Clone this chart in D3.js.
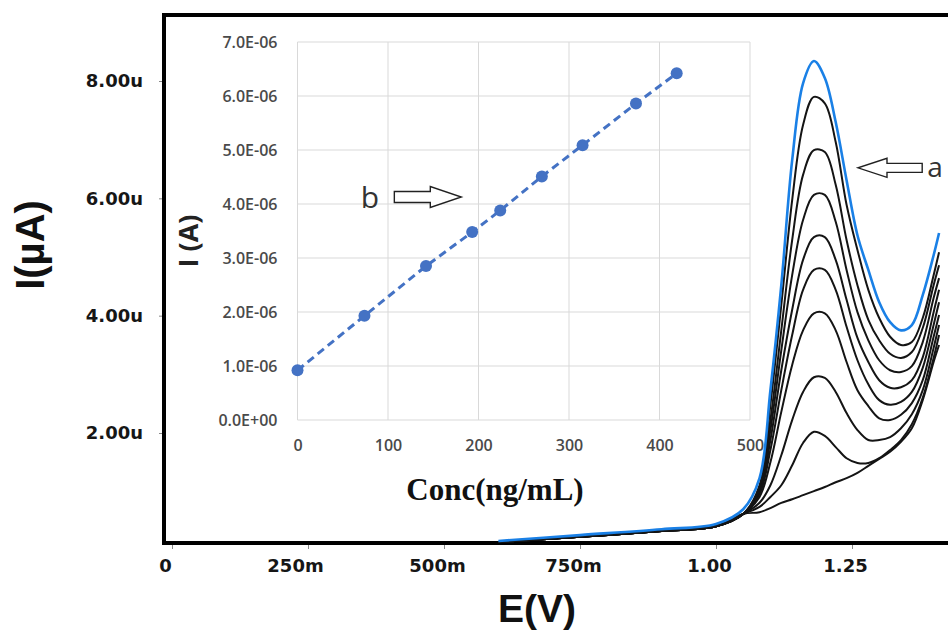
<!DOCTYPE html>
<html lang="en">
<head>
<meta charset="utf-8">
<title>DPV curves with calibration inset</title>
<style>
  body { margin: 0; background: #fff; }
  svg { display: block; background: #fff; }
  .main-axis text { font-family: "DejaVu Sans", sans-serif; font-weight: bold; font-size: 18px; fill: #161616; }
  .main-axis line { stroke: #888; }
  .main-axis path { display: none; }
  .inset-axis text { font-family: "Open Sans", sans-serif; font-weight: 600; font-size: 16px; fill: #4a4a4a; }
  .inset-axis path, .inset-axis line { display: none; }
  .grid line { stroke: #d9d9d9; stroke-width: 1; }
</style>
</head>
<body>
<div id="chart"></div>
<script src="https://d3js.org/d3.v7.min.js"></script>
<script>
  // main plot: potential grid (V) and currents (uA)
  const potential = [0.60, 0.75, 0.90, 1.00, 1.05, 1.08, 1.10, 1.12, 1.14, 1.16, 1.18, 1.20,
    1.22, 1.24, 1.26, 1.28, 1.30, 1.32, 1.34, 1.36, 1.38, 1.40, 1.41];

  const curveA = [0.16, 0.26, 0.36, 0.45, 0.70, 1.23, 2.73, 4.52, 6.65, 7.96, 8.34, 8.05, 7.30, 6.31, 5.37, 4.78, 4.23, 3.89, 3.75, 3.84, 4.35, 5.03, 5.41];
  const curve1 = [0.14, 0.23, 0.33, 0.41, 0.62, 1.11, 2.48, 4.18, 5.97, 7.25, 7.73, 7.62, 6.96, 5.89, 5.12, 4.44, 3.96, 3.64, 3.50, 3.55, 3.96, 4.69, 5.08];
  const curve2 = [0.14, 0.23, 0.33, 0.41, 0.62, 1.06, 2.22, 3.75, 5.29, 6.40, 6.82, 6.79, 6.23, 5.29, 4.52, 3.93, 3.58, 3.35, 3.28, 3.38, 3.79, 4.52, 4.86];
  const curve3 = [0.14, 0.23, 0.33, 0.41, 0.62, 1.03, 2.05, 3.41, 4.69, 5.63, 6.06, 6.06, 5.60, 4.78, 4.06, 3.58, 3.24, 3.07, 3.04, 3.14, 3.55, 4.30, 4.64];
  const curve4 = [0.14, 0.23, 0.33, 0.41, 0.62, 0.99, 1.88, 3.07, 4.10, 4.95, 5.34, 5.34, 4.95, 4.27, 3.62, 3.21, 2.90, 2.77, 2.78, 2.90, 3.29, 4.06, 4.44];
  const curve5 = [0.14, 0.23, 0.33, 0.41, 0.62, 0.96, 1.71, 2.73, 3.67, 4.44, 4.78, 4.78, 4.44, 3.81, 3.24, 2.83, 2.56, 2.48, 2.53, 2.70, 3.11, 3.84, 4.23];
  const curve6 = [0.14, 0.23, 0.33, 0.41, 0.62, 0.91, 1.50, 2.36, 3.16, 3.75, 4.04, 4.04, 3.75, 3.21, 2.73, 2.46, 2.25, 2.22, 2.31, 2.51, 2.90, 3.64, 4.01];
  const curve7 = [0.14, 0.23, 0.33, 0.41, 0.62, 0.81, 1.11, 1.62, 2.22, 2.70, 2.95, 2.94, 2.70, 2.34, 2.05, 1.88, 1.88, 1.93, 2.08, 2.32, 2.73, 3.45, 3.84];
  const curve8 = [0.14, 0.23, 0.33, 0.41, 0.62, 0.74, 0.91, 1.11, 1.45, 1.83, 2.02, 1.95, 1.76, 1.57, 1.49, 1.49, 1.57, 1.71, 1.88, 2.15, 2.60, 3.28, 3.67];
  const curve9 = [0.14, 0.23, 0.33, 0.41, 0.62, 0.65, 0.72, 0.81, 0.87, 0.94, 1.01, 1.08, 1.16, 1.23, 1.32, 1.44, 1.56, 1.68, 1.85, 2.08, 2.56, 3.21, 3.50];

  const mainXTicks = [0, 0.25, 0.5, 0.75, 1.0, 1.25];
  const mainXLabels = ["0", "250m", "500m", "750m", "1.00", "1.25"];
  const mainYTicks = [2, 4, 6, 8];
  const mainYLabels = ["2.00u", "4.00u", "6.00u", "8.00u"];

  // inset: calibration points
  const insetConc = [0, 74, 142, 193, 224, 270, 315, 374, 419];
  const insetCurrent = [0.92e-6, 1.93e-6, 2.85e-6, 3.48e-6, 3.88e-6, 4.51e-6, 5.09e-6, 5.86e-6, 6.42e-6];
  const insetXTicks = [0, 100, 200, 300, 400, 500];
  const insetYTicks = [0, 1e-6, 2e-6, 3e-6, 4e-6, 5e-6, 6e-6, 7e-6];
  const insetYLabels = ["0.0E+00", "1.0E-06", "2.0E-06", "3.0E-06", "4.0E-06", "5.0E-06", "6.0E-06", "7.0E-06"];

  const width = 948, height = 630;
  const frame = { left: 164, right: 962, top: 15, bottom: 543 };

  const svg = d3.select("#chart").append("svg")
    .attr("width", width)
    .attr("height", height);

  // 0 V sits at 172 px and 1.25 V at 852 px
  const x = d3.scaleLinear().domain([-0.0147, 1.4485]).range([frame.left, frame.right - 2]);
  const y = d3.scaleLinear().domain([0.125, 9.125]).range([frame.bottom, frame.top]);

  // ---------- inset ----------
  const xIn = d3.scaleLinear().domain([0, 500]).range([297.5, 750]);
  const yIn = d3.scaleLinear().domain([0, 7e-6]).range([420, 42]);

  const grid = svg.append("g").attr("class", "grid");
  grid.selectAll(".gx").data(insetXTicks).join("line")
    .attr("x1", d => xIn(d)).attr("x2", d => xIn(d))
    .attr("y1", yIn(0)).attr("y2", yIn(7e-6));
  grid.selectAll(".gy").data(insetYTicks).join("line")
    .attr("x1", xIn(0)).attr("x2", xIn(500))
    .attr("y1", d => yIn(d)).attr("y2", d => yIn(d));

  svg.append("g")
    .attr("class", "inset-axis")
    .attr("transform", `translate(${xIn(0)},0)`)
    .call(d3.axisLeft(yIn).tickValues(insetYTicks).tickSize(0).tickPadding(20)
      .tickFormat((d, i) => insetYLabels[i]));

  svg.append("g")
    .attr("class", "inset-axis")
    .attr("transform", `translate(0,${yIn(0)})`)
    .call(d3.axisBottom(xIn).tickValues(insetXTicks).tickSize(0).tickPadding(20));

  const insetPts = insetConc.map((c, i) => [c, insetCurrent[i]]);

  svg.append("path")
    .datum(insetPts)
    .attr("fill", "none")
    .attr("stroke", "#4472c4")
    .attr("stroke-width", 3)
    .attr("stroke-dasharray", "8,5")
    .attr("d", d3.line().x(d => xIn(d[0])).y(d => yIn(d[1])));

  svg.selectAll(".pt").data(insetPts).join("circle")
    .attr("cx", d => xIn(d[0]))
    .attr("cy", d => yIn(d[1]))
    .attr("r", 6)
    .attr("fill", "#4472c4");

  svg.append("text")
    .attr("transform", "translate(198,241) rotate(-90)")
    .attr("text-anchor", "middle")
    .style("font-family", "'Open Sans', sans-serif")
    .style("font-weight", "bold")
    .style("font-size", "27px")
    .style("fill", "#222")
    .text("I (A)");

  svg.append("text")
    .attr("x", 495).attr("y", 500)
    .attr("text-anchor", "middle")
    .style("font-family", "'Liberation Serif', 'Times New Roman', serif")
    .style("font-weight", "bold")
    .style("font-size", "31px")
    .style("fill", "#111")
    .text("Conc(ng/mL)");

  // "b" label with outlined arrow pointing right
  svg.append("text")
    .attr("x", xIn(80)).attr("y", yIn(3.92e-6))
    .attr("text-anchor", "middle")
    .style("font-family", "'Open Sans', sans-serif")
    .style("font-size", "30px")
    .style("fill", "#333")
    .text("b");

  function blockArrow(x0, x1, cy, shaft, head, headLen) {
    const dir = Math.sign(x1 - x0);
    const hb = x1 - dir * headLen;
    return `M${x0},${cy - shaft}L${hb},${cy - shaft}L${hb},${cy - head}L${x1},${cy}` +
      `L${hb},${cy + head}L${hb},${cy + shaft}L${x0},${cy + shaft}Z`;
  }

  svg.append("path")
    .attr("d", blockArrow(xIn(107), xIn(181), yIn(4.13e-6), 5.5, 10.5, 31))
    .attr("fill", "#fff")
    .attr("stroke", "#222")
    .attr("stroke-width", 1.4);

  // ---------- main frame and axes ----------
  svg.append("g")
    .attr("class", "main-axis")
    .attr("transform", `translate(${frame.left},0)`)
    .call(d3.axisLeft(y).tickValues(mainYTicks).tickSize(5).tickPadding(16)
      .tickFormat((d, i) => mainYLabels[i]));

  const xAxis = svg.append("g")
    .attr("class", "main-axis")
    .attr("transform", `translate(0,${frame.bottom})`)
    .call(d3.axisBottom(x).tickValues(mainXTicks).tickSize(6).tickPadding(10)
      .tickFormat((d, i) => mainXLabels[i]));
  xAxis.selectAll("text").attr("dx", (d, i) => i === 1 ? -13 : -7);

  svg.append("rect")
    .attr("x", frame.left).attr("y", frame.top)
    .attr("width", frame.right - frame.left)
    .attr("height", frame.bottom - frame.top)
    .attr("fill", "none")
    .attr("stroke", "#000")
    .attr("stroke-width", 4);

  // ---------- voltammograms ----------
  const line = d3.line()
    .x((d, i) => x(potential[i]))
    .y(d => y(d))
    .curve(d3.curveCatmullRom.alpha(0.5));

  const blackCurves = [curve9, curve8, curve7, curve6, curve5, curve4, curve3, curve2, curve1];

  svg.append("g").selectAll("path").data(blackCurves).join("path")
    .attr("d", line)
    .attr("fill", "none")
    .attr("stroke", "#141414")
    .attr("stroke-width", 2);

  svg.append("path")
    .datum(curveA)
    .attr("d", line)
    .attr("fill", "none")
    .attr("stroke", "#1a80e6")
    .attr("stroke-width", 2.6);

  // "a" label with outlined arrow pointing left
  svg.append("path")
    .attr("d", blockArrow(x(1.379), x(1.261), y(6.52), 4.5, 9.5, 29))
    .attr("fill", "#fff")
    .attr("stroke", "#222")
    .attr("stroke-width", 1.4);

  svg.append("text")
    .attr("x", x(1.4026)).attr("y", y(6.36))
    .attr("text-anchor", "middle")
    .style("font-family", "'Open Sans', sans-serif")
    .style("font-size", "28px")
    .style("fill", "#333")
    .text("a");

  // ---------- axis titles ----------
  svg.append("text")
    .attr("transform", "translate(44,245) rotate(-90)")
    .attr("text-anchor", "middle")
    .style("font-family", "'Liberation Sans', Arial, sans-serif")
    .style("font-weight", "bold")
    .style("font-size", "40px")
    .style("fill", "#111")
    .text("I(µA)");

  svg.append("text")
    .attr("x", 537).attr("y", 622)
    .attr("text-anchor", "middle")
    .style("font-family", "'Liberation Sans', Arial, sans-serif")
    .style("font-weight", "bold")
    .style("font-size", "39px")
    .style("fill", "#111")
    .text("E(V)");
</script>
</body>
</html>
